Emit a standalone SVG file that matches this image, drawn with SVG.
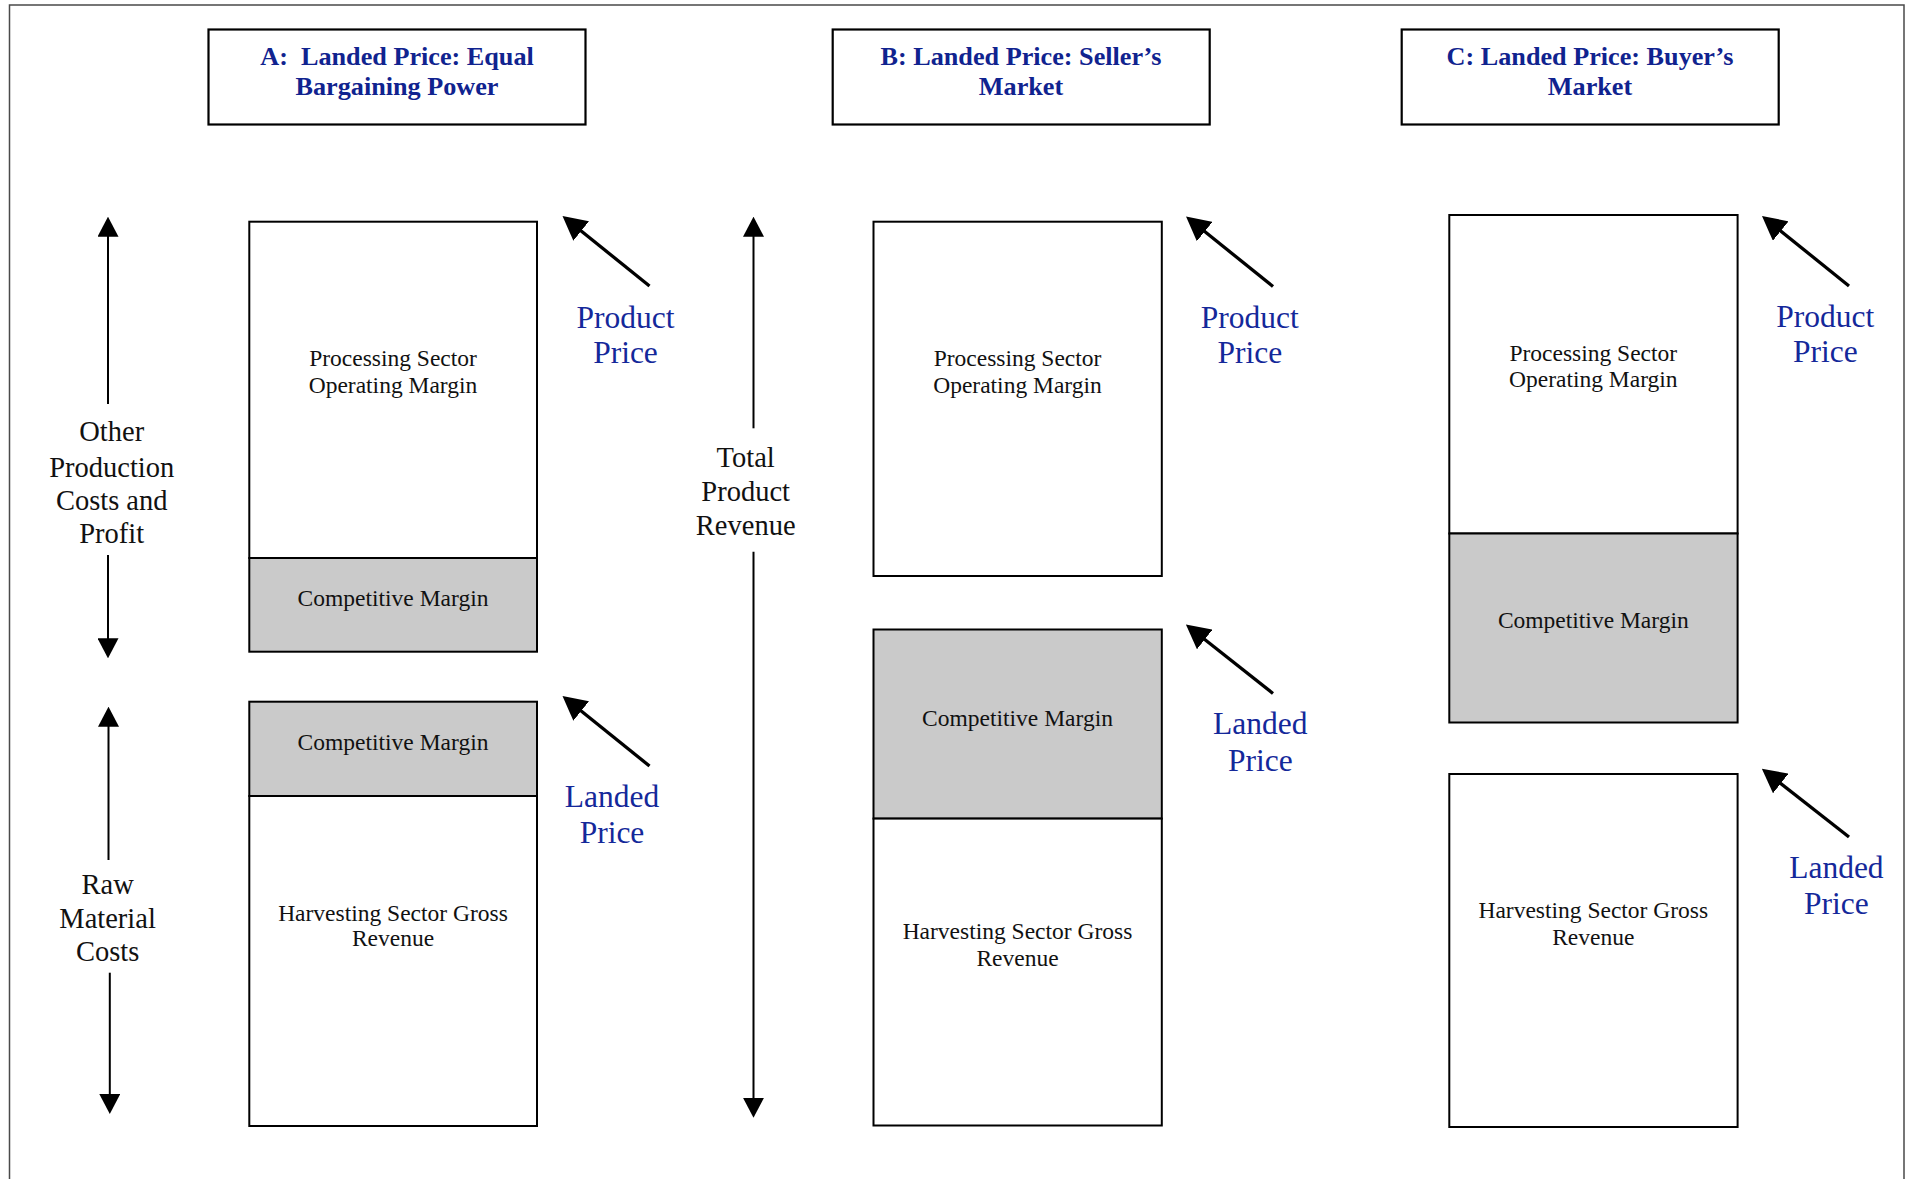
<svg xmlns="http://www.w3.org/2000/svg" width="1915" height="1179" viewBox="0 0 1915 1179">
<style>
  .frame { fill: none; stroke: #4a4a4a; stroke-width: 1.5; }
  .box { fill: #ffffff; stroke: #000000; stroke-width: 2; }
  .grey { fill: #cacaca; stroke: #000000; stroke-width: 2; }
  .hdr { fill: #ffffff; stroke: #000000; stroke-width: 2.2; }
  .htxt { font-family: "Liberation Serif", "Times New Roman", serif; font-weight: bold; font-size: 26.2px; fill: #10238f; text-anchor: middle; }
  .btxt { font-family: "Liberation Serif", "Times New Roman", serif; font-size: 23.5px; fill: #111111; text-anchor: middle; }
  .ltxt { font-family: "Liberation Serif", "Times New Roman", serif; font-size: 28.5px; fill: #111111; text-anchor: middle; }
  .ptxt { font-family: "Liberation Serif", "Times New Roman", serif; font-size: 31.5px; fill: #14289a; text-anchor: middle; }
  .diag { stroke: #000000; stroke-width: 3.3; fill: none; marker-end: url(#dhead); }
  .vert { stroke: #000000; stroke-width: 2; fill: none; marker-end: url(#vhead); }
</style>
<defs>
  <marker id="dhead" markerUnits="userSpaceOnUse" markerWidth="24" markerHeight="25" viewBox="0 0 24 25" refX="4" refY="12.5" orient="auto">
    <path d="M0,0 L24,12.5 L0,25 Z" fill="#000000"/>
  </marker>
  <marker id="vhead" markerUnits="userSpaceOnUse" markerWidth="20" markerHeight="21" viewBox="0 0 20 21" refX="4" refY="10.5" orient="auto">
    <path d="M0,0 L20,10.5 L0,21 Z" fill="#000000"/>
  </marker>
</defs>
<rect x="0" y="0" width="1915" height="1179" fill="#ffffff"/>
<path class="frame" d="M9.5,1179 V5 H1904 V1179"/>

<!-- Headers -->
<g id="header-a">
  <rect class="hdr" x="208.5" y="29.5" width="377" height="95"/>
  <text class="htxt" x="397" y="64.5">A:&#160; Landed Price: Equal</text>
  <text class="htxt" x="397" y="95">Bargaining Power</text>
</g>
<g id="header-b">
  <rect class="hdr" x="832.7" y="29.5" width="377" height="95"/>
  <text class="htxt" x="1021" y="64.5">B: Landed Price: Seller’s</text>
  <text class="htxt" x="1021" y="95">Market</text>
</g>
<g id="header-c">
  <rect class="hdr" x="1401.7" y="29.5" width="377" height="95"/>
  <text class="htxt" x="1590" y="64.5">C: Landed Price: Buyer’s</text>
  <text class="htxt" x="1590" y="95">Market</text>
</g>

<!-- Panel A -->
<g id="a-processing">
  <rect class="box" x="249.3" y="221.7" width="287.7" height="336.3"/>
  <text class="btxt" x="393" y="365.7">Processing Sector</text>
  <text class="btxt" x="393" y="392.7">Operating Margin</text>
</g>
<g id="a-competitive-upper">
  <rect class="grey" x="249.3" y="558" width="287.7" height="93.7"/>
  <text class="btxt" x="393" y="606">Competitive Margin</text>
</g>
<g id="a-competitive-lower">
  <rect class="grey" x="249.3" y="701.7" width="287.7" height="94.3"/>
  <text class="btxt" x="393" y="750">Competitive Margin</text>
</g>
<g id="a-harvesting">
  <rect class="box" x="249.3" y="796" width="287.7" height="330"/>
  <text class="btxt" x="393" y="921">Harvesting Sector Gross</text>
  <text class="btxt" x="393" y="946">Revenue</text>
</g>
<g id="label-other">
  <text class="ltxt" x="111.7" y="441">Other</text>
  <text class="ltxt" x="111.7" y="476.5">Production</text>
  <text class="ltxt" x="111.7" y="510">Costs and</text>
  <text class="ltxt" x="111.7" y="542.5">Profit</text>
</g>
<g id="label-raw">
  <text class="ltxt" x="107.6" y="893.5">Raw</text>
  <text class="ltxt" x="107.6" y="927.5">Material</text>
  <text class="ltxt" x="107.6" y="961">Costs</text>
</g>
<g id="a-product-price">
  <text class="ptxt" x="625.5" y="327.5">Product</text>
  <text class="ptxt" x="625.5" y="362.5">Price</text>
</g>
<g id="a-landed-price">
  <text class="ptxt" x="612" y="806.7">Landed</text>
  <text class="ptxt" x="612" y="842.7">Price</text>
</g>

<!-- Panel B -->
<g id="b-processing">
  <rect class="box" x="873.5" y="221.7" width="288.3" height="354.3"/>
  <text class="btxt" x="1017.5" y="365.7">Processing Sector</text>
  <text class="btxt" x="1017.5" y="392.7">Operating Margin</text>
</g>
<g id="b-competitive">
  <rect class="grey" x="873.5" y="629.5" width="288.3" height="189.1"/>
  <text class="btxt" x="1017.5" y="725.5">Competitive Margin</text>
</g>
<g id="b-harvesting">
  <rect class="box" x="873.5" y="818.6" width="288.3" height="306.9"/>
  <text class="btxt" x="1017.5" y="939">Harvesting Sector Gross</text>
  <text class="btxt" x="1017.5" y="966">Revenue</text>
</g>
<g id="label-total">
  <text class="ltxt" x="745.7" y="467.3">Total</text>
  <text class="ltxt" x="745.7" y="500.7">Product</text>
  <text class="ltxt" x="745.7" y="535">Revenue</text>
</g>
<g id="b-product-price">
  <text class="ptxt" x="1249.8" y="327.5">Product</text>
  <text class="ptxt" x="1249.8" y="362.5">Price</text>
</g>
<g id="b-landed-price">
  <text class="ptxt" x="1260.3" y="733.5">Landed</text>
  <text class="ptxt" x="1260.3" y="770.5">Price</text>
</g>

<!-- Panel C -->
<g id="c-processing">
  <rect class="box" x="1449.3" y="215" width="288.3" height="318.5"/>
  <text class="btxt" x="1593.3" y="360.5">Processing Sector</text>
  <text class="btxt" x="1593.3" y="386.5">Operating Margin</text>
</g>
<g id="c-competitive">
  <rect class="grey" x="1449.3" y="533.5" width="288.3" height="189"/>
  <text class="btxt" x="1593.3" y="628">Competitive Margin</text>
</g>
<g id="c-harvesting">
  <rect class="box" x="1449.3" y="774" width="288.3" height="353"/>
  <text class="btxt" x="1593.3" y="918.3">Harvesting Sector Gross</text>
  <text class="btxt" x="1593.3" y="945">Revenue</text>
</g>
<g id="c-product-price">
  <text class="ptxt" x="1825.3" y="327">Product</text>
  <text class="ptxt" x="1825.3" y="362.3">Price</text>
</g>
<g id="c-landed-price">
  <text class="ptxt" x="1836.4" y="877.7">Landed</text>
  <text class="ptxt" x="1836.4" y="914.3">Price</text>
</g>

<!-- Connectors -->
<g id="connectors">
  <line class="vert" x1="108" y1="404" x2="108" y2="232.7"/>
  <line class="vert" x1="108" y1="555" x2="108" y2="642.3"/>
  <line class="vert" x1="108.5" y1="860" x2="108.5" y2="722.7"/>
  <line class="vert" x1="109.8" y1="972.7" x2="109.8" y2="1098"/>
  <line class="vert" x1="753.5" y1="428.3" x2="753.5" y2="232.7"/>
  <line class="vert" x1="753.5" y1="551.7" x2="753.5" y2="1101.8"/>

  <line class="diag" x1="649.5" y1="286" x2="578.1" y2="228.5"/>
  <line class="diag" x1="649.5" y1="766" x2="578.1" y2="708.5"/>
  <line class="diag" x1="1273" y1="286.5" x2="1201.6" y2="229"/>
  <line class="diag" x1="1273" y1="693.5" x2="1201.6" y2="637"/>
  <line class="diag" x1="1849" y1="286" x2="1777.6" y2="228.5"/>
  <line class="diag" x1="1849" y1="837" x2="1777.6" y2="781"/>
</g>
</svg>
